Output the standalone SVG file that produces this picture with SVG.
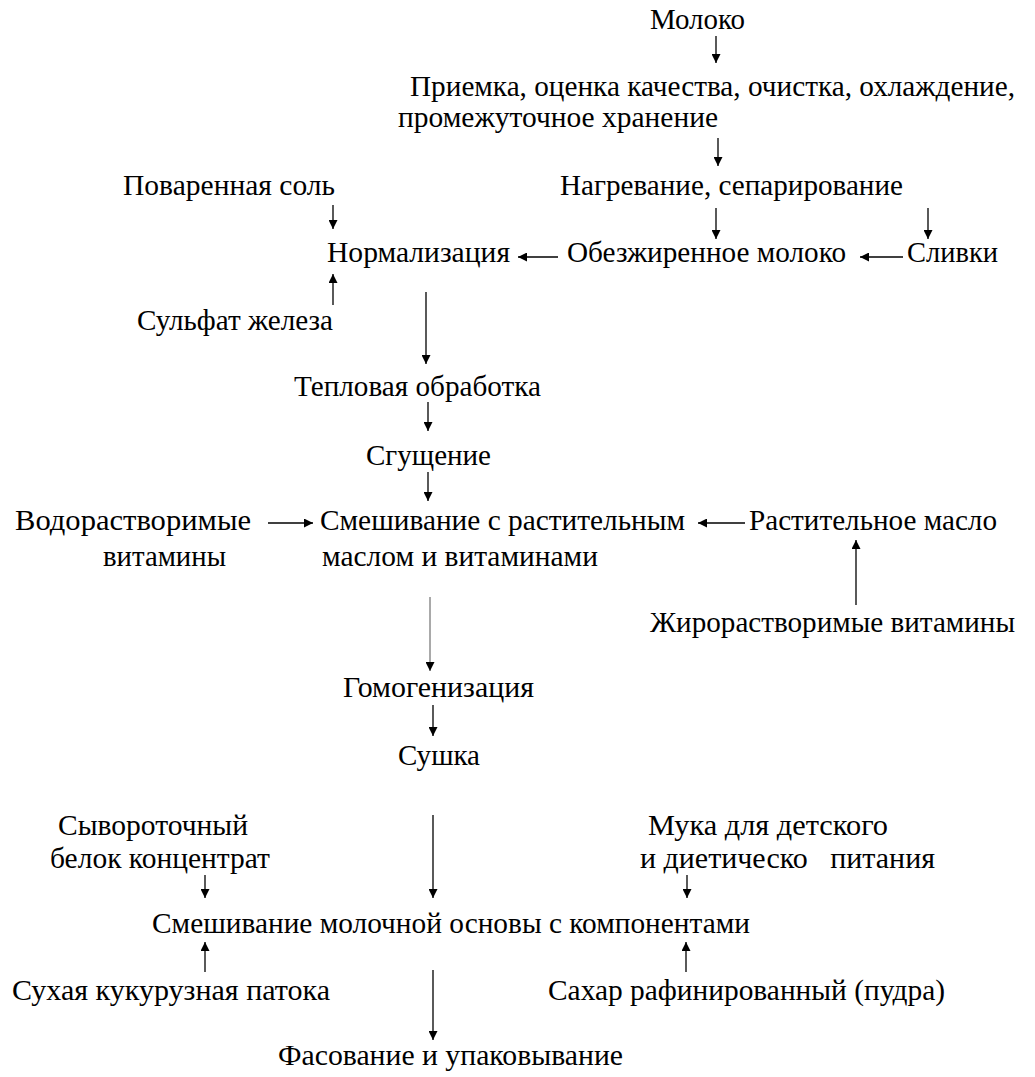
<svg xmlns="http://www.w3.org/2000/svg" width="1035" height="1077" viewBox="0 0 1035 1077">
<style>
.c line{stroke:#000;stroke-width:1.3;marker-end:url(#ah)}
</style>
<defs>
<marker id="ah" viewBox="0 0 10 10" refX="10" refY="5" markerWidth="9" markerHeight="9" markerUnits="userSpaceOnUse" orient="auto"><path d="M0,0 L10,5 L0,10 z" fill="#000"/></marker>
</defs>
<rect width="1035" height="1077" fill="#fff"/>
<g font-family="Liberation Serif, DejaVu Serif, serif" font-size="29" fill="#000">
<g id="n1"><text x="650" y="29" textLength="95" lengthAdjust="spacingAndGlyphs">Молоко</text></g>
<g id="n2"><text x="410" y="96" textLength="605" lengthAdjust="spacingAndGlyphs">Приемка, оценка качества, очистка, охлаждение,</text>
<text x="398" y="127" textLength="320" lengthAdjust="spacingAndGlyphs">промежуточное хранение</text></g>
<g id="n3"><text x="560" y="195" textLength="343" lengthAdjust="spacingAndGlyphs">Нагревание, сепарирование</text></g>
<g id="n4"><text x="123" y="195" textLength="212" lengthAdjust="spacingAndGlyphs">Поваренная соль</text></g>
<g id="n5"><text x="327" y="262" textLength="183" lengthAdjust="spacingAndGlyphs">Нормализация</text></g>
<g id="n6"><text x="567" y="262" textLength="279" lengthAdjust="spacingAndGlyphs">Обезжиренное молоко</text></g>
<g id="n7"><text x="907" y="262" textLength="91" lengthAdjust="spacingAndGlyphs">Сливки</text></g>
<g id="n8"><text x="137" y="330" textLength="196" lengthAdjust="spacingAndGlyphs">Сульфат железа</text></g>
<g id="n9"><text x="294" y="396" textLength="247" lengthAdjust="spacingAndGlyphs">Тепловая обработка</text></g>
<g id="n10"><text x="366" y="465" textLength="125" lengthAdjust="spacingAndGlyphs">Сгущение</text></g>
<g id="n11"><text x="15" y="530" textLength="236" lengthAdjust="spacingAndGlyphs">Водорастворимые</text>
<text x="103" y="566" textLength="123" lengthAdjust="spacingAndGlyphs">витамины</text></g>
<g id="n12"><text x="320" y="530" textLength="365" lengthAdjust="spacingAndGlyphs">Смешивание с растительным</text>
<text x="322" y="566" textLength="276" lengthAdjust="spacingAndGlyphs">маслом и витаминами</text></g>
<g id="n13"><text x="749" y="530" textLength="248" lengthAdjust="spacingAndGlyphs">Растительное масло</text></g>
<g id="n14"><text x="650" y="632" textLength="365" lengthAdjust="spacingAndGlyphs">Жирорастворимые витамины</text></g>
<g id="n15"><text x="343" y="697" textLength="191" lengthAdjust="spacingAndGlyphs">Гомогенизация</text></g>
<g id="n16"><text x="398" y="765" textLength="82" lengthAdjust="spacingAndGlyphs">Сушка</text></g>
<g id="n17"><text x="58" y="835" textLength="190" lengthAdjust="spacingAndGlyphs">Сывороточный</text>
<text x="50" y="868" textLength="220" lengthAdjust="spacingAndGlyphs">белок концентрат</text></g>
<g id="n18"><text x="648" y="835" textLength="240" lengthAdjust="spacingAndGlyphs">Мука для детского</text>
<text x="640" y="868" textLength="295" lengthAdjust="spacingAndGlyphs" style="white-space:pre">и диетическо   питания</text></g>
<g id="n19"><text x="152" y="933" textLength="598" lengthAdjust="spacingAndGlyphs">Смешивание молочной основы с компонентами</text></g>
<g id="n20"><text x="12" y="1000" textLength="318" lengthAdjust="spacingAndGlyphs">Сухая кукурузная патока</text></g>
<g id="n21"><text x="548" y="1000" textLength="397" lengthAdjust="spacingAndGlyphs">Сахар рафинированный (пудра)</text></g>
<g id="n22"><text x="278" y="1065" textLength="345" lengthAdjust="spacingAndGlyphs">Фасование и упаковывание</text></g>
</g>
<g class="c" id="connectors">
<line x1="716" y1="36" x2="716" y2="63"/>
<line x1="718" y1="138" x2="718" y2="166"/>
<line x1="333" y1="205" x2="333" y2="229"/>
<line x1="716" y1="208" x2="716" y2="239"/>
<line x1="928" y1="208" x2="928" y2="239"/>
<line x1="558" y1="257" x2="518" y2="257"/>
<line x1="903" y1="257" x2="860" y2="257"/>
<line x1="333" y1="305" x2="333" y2="274"/>
<line x1="426" y1="292" x2="426" y2="364"/>
<line x1="428" y1="402" x2="428" y2="431"/>
<line x1="428" y1="472" x2="428" y2="501"/>
<line x1="268" y1="523" x2="313" y2="523"/>
<line x1="745" y1="523" x2="698" y2="523"/>
<line x1="856" y1="605" x2="856" y2="540"/>
<line x1="430" y1="597" x2="430" y2="671" style="stroke:#555;stroke-width:1"/>
<line x1="433" y1="705" x2="433" y2="736"/>
<line x1="433" y1="815" x2="433" y2="898"/>
<line x1="205" y1="875" x2="205" y2="898"/>
<line x1="687" y1="875" x2="687" y2="898"/>
<line x1="205" y1="972" x2="205" y2="942"/>
<line x1="686" y1="972" x2="686" y2="942"/>
<line x1="433" y1="970" x2="433" y2="1040"/>
</g>
</svg>
